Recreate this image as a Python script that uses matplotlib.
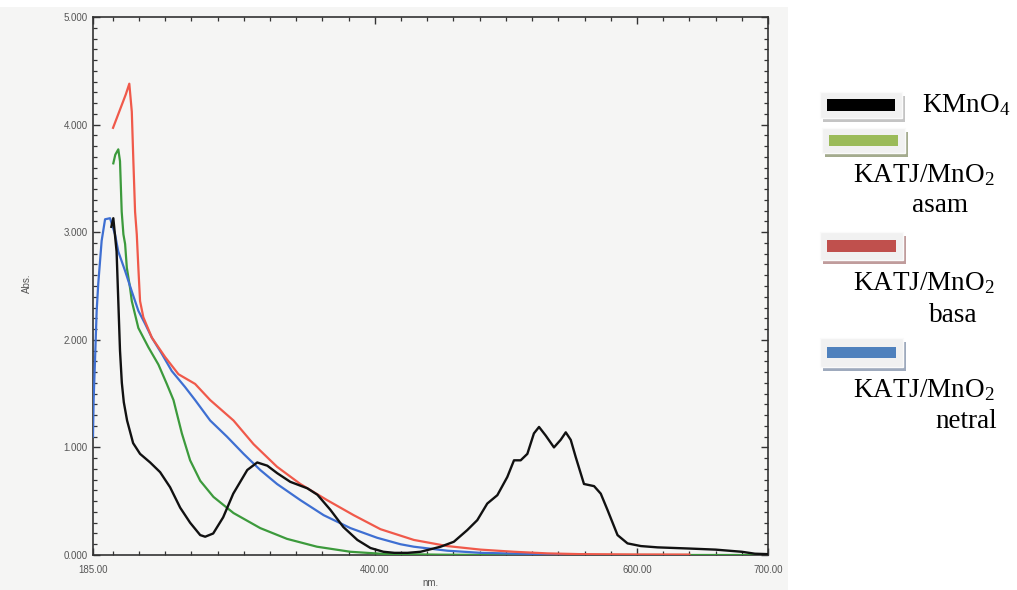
import matplotlib
matplotlib.use("Agg")
import matplotlib.pyplot as plt
from matplotlib.patches import Rectangle
from matplotlib.ticker import FixedLocator, MultipleLocator

plt.rcParams['font.family'] = ['Liberation Sans', 'DejaVu Sans']
plt.rcParams['mathtext.fontset'] = 'custom'
plt.rcParams['mathtext.rm'] = 'Liberation Serif'
plt.rcParams['mathtext.it'] = 'Liberation Serif:italic'

# KMnO4
wl_kmno4 = [199, 200.5, 203, 204.3, 205.6, 207, 208.5, 211, 215.6, 220.9, 228.6, 236.2,
            243.8, 251.5, 259.1, 266.8, 270.6, 276.7, 284.3, 292, 302.7, 310.3, 318,
            325.6, 335.5, 348.5, 356.2, 366.1, 376, 386.7, 396.7, 406.6, 415, 425,
            434.9, 450.2, 460.3, 470.5, 478.2, 485.8, 493.5, 501.1, 506.2, 511.3,
            516.4, 521.4, 525.3, 530.4, 536.7, 541.8, 545.7, 549.5, 553.3, 559.6,
            567.3, 572.4, 577.5, 585.2, 592.8, 603, 615.7, 640, 660, 680, 690, 700]
abs_kmno4 = [3.05, 3.13, 2.82, 2.36, 1.9, 1.6, 1.42, 1.25, 1.04, 0.94, 0.86, 0.77,
             0.63, 0.44, 0.30, 0.185, 0.17, 0.20, 0.35, 0.57, 0.79, 0.86, 0.83,
             0.76, 0.68, 0.62, 0.56, 0.42, 0.26, 0.14, 0.065, 0.03, 0.02, 0.02,
             0.03, 0.077, 0.123, 0.231, 0.324, 0.478, 0.556, 0.725, 0.88, 0.88,
             0.94, 1.13, 1.19, 1.11, 1.0, 1.07, 1.14, 1.07, 0.91, 0.66,
             0.64, 0.57, 0.42, 0.185, 0.108, 0.083, 0.071, 0.06, 0.05, 0.03, 0.012, 0.008]

# KATJ/MnO2 asam
wl_asam = [200.5, 202, 204.3, 205.6, 206.9, 208.2, 209.5, 210.8, 213.3, 214.6, 219.6,
           227.3, 234.9, 241.3, 246.4, 252.8, 259.1, 266.8, 276.9, 292.2, 312.6, 333,
           355.9, 381.4, 406.8, 450, 500, 600, 700]
abs_asam = [3.64, 3.72, 3.77, 3.66, 3.19, 2.98, 2.89, 2.67, 2.48, 2.36, 2.11,
            1.93, 1.77, 1.59, 1.44, 1.13, 0.88, 0.69, 0.54, 0.39, 0.25, 0.15,
            0.077, 0.03, 0.01, 0.003, 0.0, 0.0, 0.0]

# KATJ/MnO2 basa
wl_basa = [200.3, 205, 210, 212.7, 214.6, 215.8, 217.1, 218.4, 219.6, 220.9, 223.4,
           229.9, 240, 250.2, 262.9, 274.4, 292.2, 307.5, 325.4, 343.2, 363.6, 383.9,
           404.3, 419.6, 429.8, 455.3, 480.7, 506.2, 531.7, 557, 600, 640]
abs_basa = [3.97, 4.12, 4.28, 4.38, 4.12, 3.66, 3.19, 2.98, 2.67, 2.36, 2.21,
            2.02, 1.84, 1.68, 1.59, 1.44, 1.25, 1.03, 0.82, 0.66, 0.51, 0.37,
            0.24, 0.18, 0.14, 0.083, 0.05, 0.03, 0.015, 0.008, 0.005, 0.004]

# KATJ/MnO2 netral
wl_netral = [185, 185.5, 186.5, 187.8, 189, 191.6, 194.2, 198, 201.8, 204.3, 209.5,
             214.6, 219.6, 224.7, 229.9, 237.5, 245.1, 255.3, 262.9, 274.4, 287.2,
             299.9, 312.6, 325.4, 343.2, 361, 381.4, 401.8, 419.6, 429.8, 455.3,
             480.7, 510, 540, 560]
abs_netral = [1.1, 1.45, 1.8, 2.27, 2.52, 2.92, 3.12, 3.13, 2.98, 2.82, 2.64,
              2.45, 2.27, 2.15, 2.02, 1.87, 1.71, 1.56, 1.44, 1.25, 1.1,
              0.94, 0.79, 0.66, 0.51, 0.37, 0.25, 0.16, 0.10, 0.077, 0.04,
              0.02, 0.012, 0.006, 0.004]

x_ticks = [185, 400, 600, 700]
x_labels = ["185.00", "400.00", "600.00", "700.00"]
y_ticks = [0, 1, 2, 3, 4, 5]
y_labels = ["0.000", "1.000", "2.000", "3.000", "4.000", "5.000"]

W, H = 1017, 590
fig = plt.figure(figsize=(W / 100, H / 100), dpi=100, facecolor="white")

# grey sheet behind the spectrum
fig.patches.append(Rectangle((0, 0), 788 / W, 583 / H, transform=fig.transFigure,
                             facecolor="#f5f5f4", edgecolor="none", zorder=-5))

ax = fig.add_axes([93 / W, 35 / H, 675 / W, 538 / H])
ax.set_facecolor("none")

ax.plot(wl_asam, abs_asam, color="#3c9a3c", lw=1.6, zorder=3)
ax.plot(wl_netral, abs_netral, color="#3e6fd2", lw=1.6, zorder=3)
ax.plot(wl_basa, abs_basa, color="#f0594a", lw=1.6, zorder=3)
ax.plot(wl_kmno4, abs_kmno4, color="#111111", lw=1.7, zorder=4)

ax.set_xlim(185, 700)
ax.set_ylim(0, 5)
ax.xaxis.set_major_locator(FixedLocator(x_ticks))
ax.set_xticklabels(x_labels)
ax.xaxis.set_minor_locator(FixedLocator(list(range(200, 700, 20))))
ax.set_yticks(y_ticks)
ax.set_yticklabels(y_labels)
ax.yaxis.set_minor_locator(MultipleLocator(0.1))

for sp in ax.spines.values():
    sp.set_color("#333333")
    sp.set_linewidth(1.2)
ax.tick_params(which="both", direction="in", top=True, right=True,
               color="#333333", labelsize=7, labelcolor="#555555")
ax.tick_params(which="major", length=5, width=1)
ax.tick_params(which="minor", length=3, width=0.9)
ax.tick_params(axis="x", pad=7)
ax.tick_params(axis="y", pad=4)

fig.text(430 / W, 1 - 583 / H, "nm.", fontsize=7, color="#555555", ha="center", va="center")
fig.text(27 / W, 1 - 283 / H, "Abs.", fontsize=7, color="#555555", rotation=90,
         ha="center", va="center")


# legend swatches drawn on the figure
def swatch(x0, y0, x1, y1, color, shadow):
    fig.patches.append(Rectangle((x0 / W + 3 / W, 1 - (y1 + 4) / H), (x1 - x0) / W, (y1 - y0) / H,
                                 transform=fig.transFigure, facecolor=shadow,
                                 edgecolor="none", zorder=1))
    fig.patches.append(Rectangle((x0 / W, 1 - y1 / H), (x1 - x0) / W, (y1 - y0) / H,
                                 transform=fig.transFigure, facecolor="#f1f1f1",
                                 edgecolor="#fafafa", lw=1, zorder=2))
    cy = (y0 + y1) / 2
    fig.patches.append(Rectangle((x0 / W + 7 / W, 1 - (cy + 5.5) / H), (x1 - x0 - 14) / W, 11 / H,
                                 transform=fig.transFigure, facecolor=color,
                                 edgecolor="none", zorder=3))


swatch(820, 92, 902, 118, "#000000", "#c4c4c4")
swatch(822, 128, 905, 153, "#9bbb59", "#a4ab8e")
swatch(820, 232, 903, 260, "#c0504d", "#c09c9c")
swatch(820, 338, 903, 367, "#4f81bd", "#9eaabd")

tkw = dict(fontsize=19.5, color="black", va="center", family=["Liberation Serif"])
fig.text(922 / W, 1 - 105 / H, "KMnO$_4$", ha="left", **tkw)
fig.text(853 / W, 1 - 175 / H, "KATJ/MnO$_2$", ha="left", **tkw)
fig.text(940 / W, 1 - 205 / H, "asam", ha="center", **tkw)
fig.text(853 / W, 1 - 283 / H, "KATJ/MnO$_2$", ha="left", **tkw)
fig.text(953 / W, 1 - 315 / H, "basa", ha="center", **tkw)
fig.text(853 / W, 1 - 390 / H, "KATJ/MnO$_2$", ha="left", **tkw)
fig.text(966 / W, 1 - 422 / H, "netral", ha="center", **tkw)

fig.savefig("out.png", dpi=100, facecolor="white")
